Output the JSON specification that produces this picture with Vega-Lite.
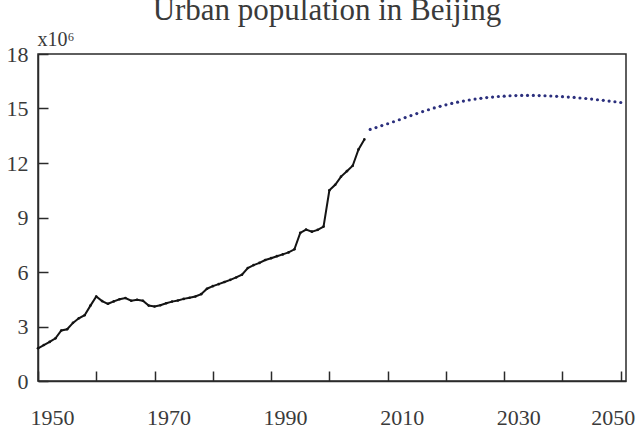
{
  "$schema": "https://vega.github.io/schema/vega-lite/v6.json",
  "width": 588,
  "height": 327,
  "autosize": {"type": "none"},
  "padding": {"left": 38, "top": 54, "right": 13, "bottom": 56},
  "background": "white",
  "title": {
    "text": "Urban population in Beijing",
    "font": "Liberation Serif",
    "fontSize": 31,
    "fontWeight": "normal",
    "color": "#3a3a3a",
    "anchor": "middle",
    "frame": "group",
    "baseline": "alphabetic",
    "offset": 11,
    "dy": 33,
    "dx": -5
  },
  "config": {
    "font": "Liberation Serif",
    "view": {"stroke": "#2a2a2a", "strokeWidth": 1.5}
  },
  "datasets": {
    "observed": [
      {"year": 1950, "pop": 1.80}, {"year": 1951, "pop": 1.98}, {"year": 1952, "pop": 2.15},
      {"year": 1953, "pop": 2.35}, {"year": 1954, "pop": 2.78}, {"year": 1955, "pop": 2.85},
      {"year": 1956, "pop": 3.20}, {"year": 1957, "pop": 3.45}, {"year": 1958, "pop": 3.62},
      {"year": 1959, "pop": 4.15}, {"year": 1960, "pop": 4.65}, {"year": 1961, "pop": 4.40},
      {"year": 1962, "pop": 4.25}, {"year": 1963, "pop": 4.38}, {"year": 1964, "pop": 4.50},
      {"year": 1965, "pop": 4.57}, {"year": 1966, "pop": 4.42}, {"year": 1967, "pop": 4.47},
      {"year": 1968, "pop": 4.42}, {"year": 1969, "pop": 4.15}, {"year": 1970, "pop": 4.10},
      {"year": 1971, "pop": 4.17}, {"year": 1972, "pop": 4.28}, {"year": 1973, "pop": 4.37},
      {"year": 1974, "pop": 4.43}, {"year": 1975, "pop": 4.52}, {"year": 1976, "pop": 4.58},
      {"year": 1977, "pop": 4.65}, {"year": 1978, "pop": 4.78}, {"year": 1979, "pop": 5.08},
      {"year": 1980, "pop": 5.22}, {"year": 1981, "pop": 5.33}, {"year": 1982, "pop": 5.45},
      {"year": 1983, "pop": 5.57}, {"year": 1984, "pop": 5.70}, {"year": 1985, "pop": 5.85},
      {"year": 1986, "pop": 6.22}, {"year": 1987, "pop": 6.38}, {"year": 1988, "pop": 6.50},
      {"year": 1989, "pop": 6.66}, {"year": 1990, "pop": 6.76}, {"year": 1991, "pop": 6.87},
      {"year": 1992, "pop": 6.97}, {"year": 1993, "pop": 7.08}, {"year": 1994, "pop": 7.25},
      {"year": 1995, "pop": 8.15}, {"year": 1996, "pop": 8.33}, {"year": 1997, "pop": 8.22},
      {"year": 1998, "pop": 8.32}, {"year": 1999, "pop": 8.50}, {"year": 2000, "pop": 10.50},
      {"year": 2001, "pop": 10.80}, {"year": 2002, "pop": 11.25}, {"year": 2003, "pop": 11.55},
      {"year": 2004, "pop": 11.85}, {"year": 2005, "pop": 12.75}, {"year": 2006, "pop": 13.30}
    ],
    "projected": [
      {"year": 2007, "pop": 13.85}, {"year": 2008, "pop": 13.95}, {"year": 2009, "pop": 14.06},
      {"year": 2010, "pop": 14.16}, {"year": 2011, "pop": 14.27}, {"year": 2012, "pop": 14.38},
      {"year": 2013, "pop": 14.50}, {"year": 2014, "pop": 14.61}, {"year": 2015, "pop": 14.72},
      {"year": 2016, "pop": 14.83}, {"year": 2017, "pop": 14.93}, {"year": 2018, "pop": 15.03},
      {"year": 2019, "pop": 15.12}, {"year": 2020, "pop": 15.20}, {"year": 2021, "pop": 15.28},
      {"year": 2022, "pop": 15.35}, {"year": 2023, "pop": 15.41}, {"year": 2024, "pop": 15.47},
      {"year": 2025, "pop": 15.52}, {"year": 2026, "pop": 15.56}, {"year": 2027, "pop": 15.60},
      {"year": 2028, "pop": 15.63}, {"year": 2029, "pop": 15.66}, {"year": 2030, "pop": 15.68},
      {"year": 2031, "pop": 15.70}, {"year": 2032, "pop": 15.71}, {"year": 2033, "pop": 15.72},
      {"year": 2034, "pop": 15.72}, {"year": 2035, "pop": 15.72}, {"year": 2036, "pop": 15.71},
      {"year": 2037, "pop": 15.70}, {"year": 2038, "pop": 15.69}, {"year": 2039, "pop": 15.67},
      {"year": 2040, "pop": 15.65}, {"year": 2041, "pop": 15.63}, {"year": 2042, "pop": 15.61},
      {"year": 2043, "pop": 15.58}, {"year": 2044, "pop": 15.55}, {"year": 2045, "pop": 15.52},
      {"year": 2046, "pop": 15.48}, {"year": 2047, "pop": 15.45}, {"year": 2048, "pop": 15.41},
      {"year": 2049, "pop": 15.37}, {"year": 2050, "pop": 15.33}
    ]
  },
  "encoding": {
    "x": {
      "field": "year",
      "type": "quantitative",
      "scale": {"domain": [1950, 2050.9], "nice": false, "zero": false},
      "axis": {
        "title": null,
        "grid": false,
        "values": [1950, 1960, 1970, 1980, 1990, 2000, 2010, 2020, 2030, 2040, 2050],
        "format": "d",
        "labelExpr": "(datum.value - 1950) % 20 == 0 ? datum.label : ''",
        "labelFont": "Liberation Serif",
        "labelFontSize": 22,
        "labelColor": "#3a3a3a",
        "labelOffset": 14,
        "labelAlign": {"condition": {"test": "datum.value >= 2050", "value": "right"}, "value": "center"},
        "labelPadding": 36,
        "labelOverlap": false,
        "labelFlush": false,
        "labelBound": false,
        "tickSize": -10,
        "tickWidth": 1.5,
        "tickColor": "#2a2a2a",
        "domainColor": "#2a2a2a",
        "domainWidth": 1.5
      }
    },
    "y": {
      "field": "pop",
      "type": "quantitative",
      "scale": {"domain": [0, 18], "nice": false},
      "axis": {
        "title": "x10⁶",
        "titleAngle": 0,
        "titleAlign": "left",
        "titleBaseline": "alphabetic",
        "titleX": -1,
        "titleY": -9,
        "titleFont": "Liberation Serif",
        "titleFontSize": 20,
        "titleFontWeight": "normal",
        "titleColor": "#3a3a3a",
        "grid": false,
        "values": [0, 3, 6, 9, 12, 15, 18],
        "labelFont": "Liberation Serif",
        "labelFontSize": 22,
        "labelColor": "#3a3a3a",
        "labelPadding": 20,
        "labelDy": -4,
        "labelOverlap": false,
        "labelFlush": false,
        "labelBound": false,
        "tickSize": -10,
        "tickWidth": 1.5,
        "tickColor": "#2a2a2a",
        "domainColor": "#2a2a2a",
        "domainWidth": 1.5
      }
    }
  },
  "layer": [
    {
      "data": {"name": "observed"},
      "mark": {"type": "line", "color": "#141414", "strokeWidth": 2}
    },
    {
      "data": {"name": "observed"},
      "mark": {"type": "point", "filled": true, "color": "#141414", "size": 7, "opacity": 1}
    },
    {
      "data": {"name": "projected"},
      "mark": {"type": "point", "filled": true, "color": "#2b2f7d", "size": 10, "opacity": 1}
    }
  ]
}
